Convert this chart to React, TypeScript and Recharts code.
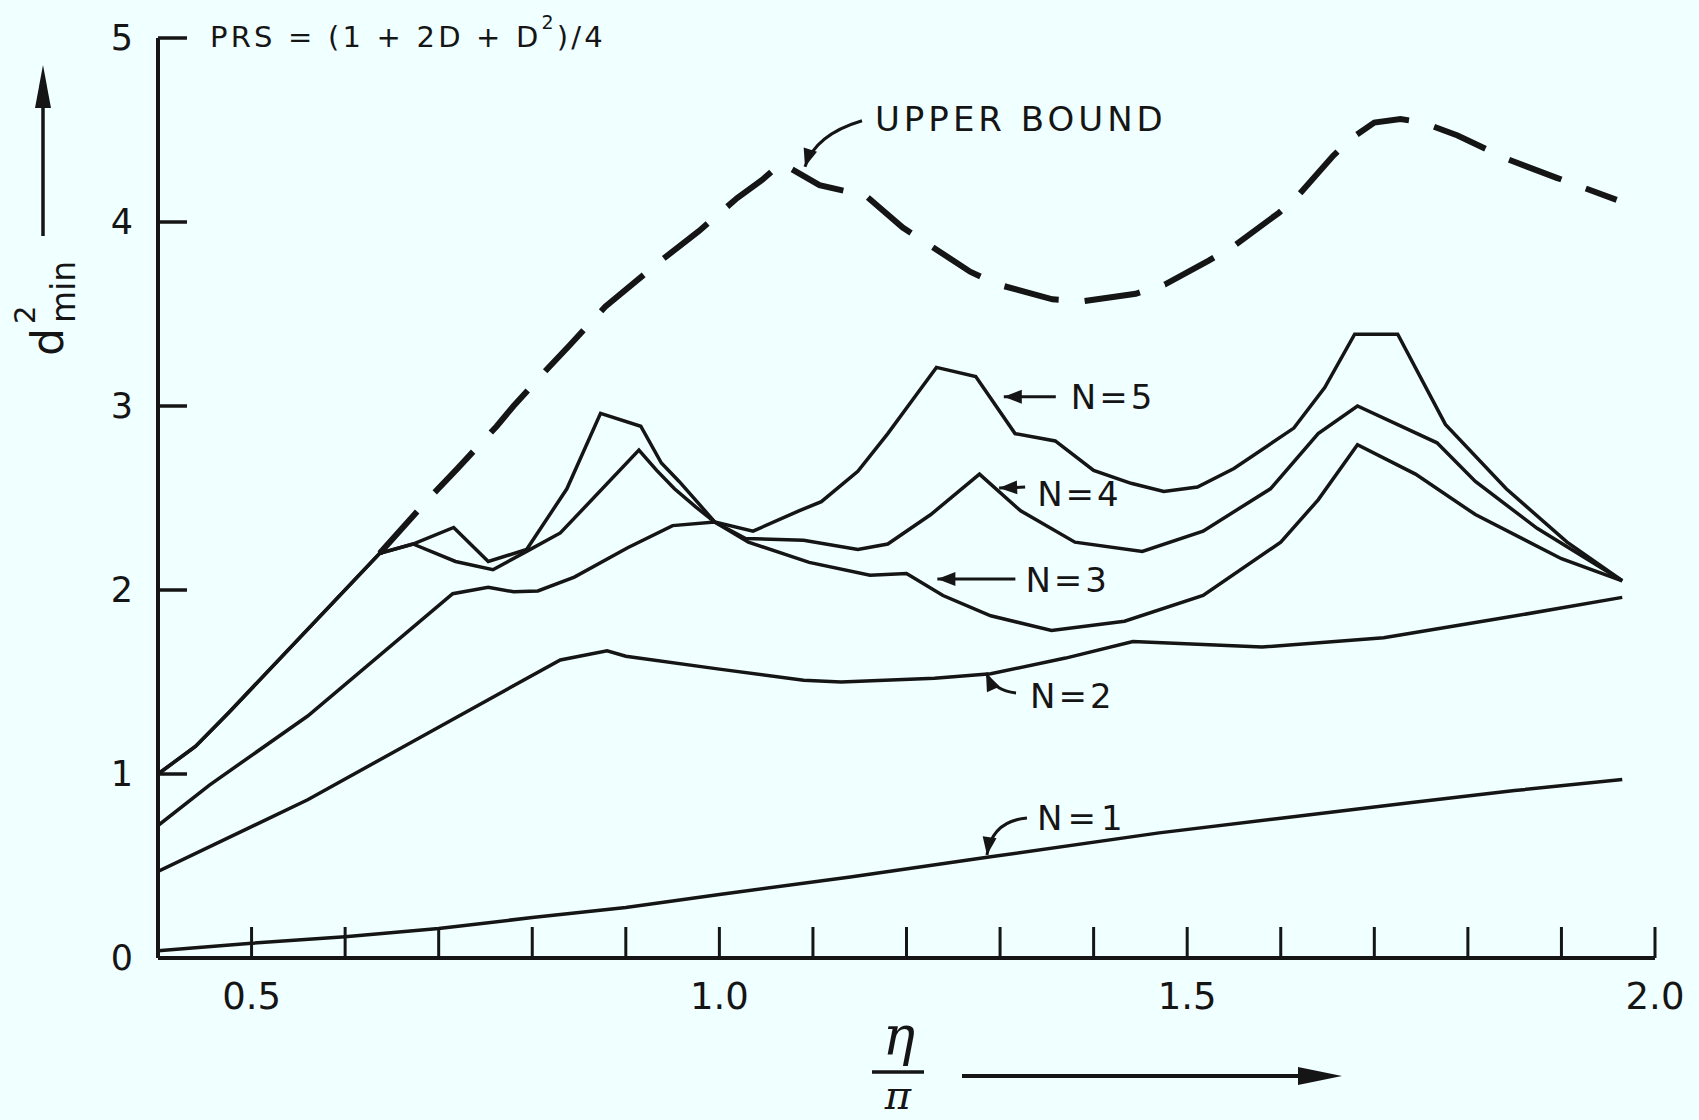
import React from "react";
import { LineChart, Line, XAxis, YAxis, ReferenceDot } from "recharts";

type Pt = [number, number];

// d^2_min versus eta/pi
const n1: Pt[] = [
  [0.4, 0.04], [0.5, 0.08], [0.6, 0.115], [0.7, 0.16], [0.8, 0.22], [0.9, 0.275],
  [1.0, 0.345], [1.14, 0.44], [1.29, 0.55], [1.47, 0.68], [1.6, 0.76], [1.74, 0.845],
  [1.85, 0.91], [1.965, 0.97],
];
const n2: Pt[] = [
  [0.4, 0.47], [0.56, 0.86], [0.67, 1.17], [0.83, 1.62], [0.88, 1.67], [0.9, 1.64],
  [1.0, 1.57], [1.09, 1.51], [1.13, 1.5], [1.23, 1.52], [1.29, 1.545], [1.37, 1.63],
  [1.442, 1.72], [1.58, 1.69], [1.71, 1.74], [1.84, 1.85], [1.965, 1.96],
];
const n3: Pt[] = [
  [0.4, 0.72], [0.455, 0.94], [0.56, 1.315], [0.715, 1.98], [0.753, 2.015], [0.78, 1.99],
  [0.806, 1.995], [0.845, 2.07], [0.902, 2.23], [0.95, 2.35], [0.995, 2.37], [1.031, 2.26],
  [1.096, 2.15], [1.161, 2.08], [1.2, 2.09], [1.239, 1.97], [1.29, 1.86], [1.355, 1.78],
  [1.433, 1.83], [1.517, 1.97], [1.6, 2.26], [1.64, 2.49], [1.682, 2.79], [1.744, 2.63],
  [1.808, 2.41], [1.9, 2.17], [1.965, 2.05],
];
const n4: Pt[] = [
  [0.4, 1.0], [0.44, 1.15], [0.475, 1.33], [0.637, 2.2], [0.6725, 2.25], [0.718, 2.155],
  [0.758, 2.11], [0.794, 2.21], [0.83, 2.31], [0.914, 2.76], [0.933, 2.65], [0.952, 2.55],
  [0.975, 2.45], [0.995, 2.37], [1.028, 2.28], [1.09, 2.27], [1.148, 2.22], [1.18, 2.25],
  [1.226, 2.41], [1.278, 2.63], [1.322, 2.43], [1.38, 2.26], [1.452, 2.21], [1.517, 2.32],
  [1.589, 2.55], [1.64, 2.85], [1.682, 3.0], [1.767, 2.8], [1.808, 2.59], [1.874, 2.335],
  [1.965, 2.05],
];
const n5: Pt[] = [
  [0.4, 1.0], [0.44, 1.15], [0.475, 1.33], [0.637, 2.2], [0.6725, 2.25], [0.716, 2.34],
  [0.753, 2.155], [0.794, 2.22], [0.837, 2.55], [0.873, 2.96], [0.916, 2.89], [0.938, 2.69],
  [0.957, 2.59], [0.977, 2.475], [0.995, 2.37], [1.036, 2.32], [1.085, 2.43], [1.109, 2.48],
  [1.148, 2.645], [1.18, 2.85], [1.206, 3.03], [1.232, 3.21], [1.274, 3.16], [1.316, 2.85],
  [1.359, 2.81], [1.4, 2.65], [1.44, 2.58], [1.475, 2.535], [1.511, 2.56], [1.55, 2.66],
  [1.614, 2.88], [1.647, 3.1], [1.679, 3.39], [1.725, 3.39], [1.776, 2.9], [1.841, 2.55],
  [1.906, 2.26], [1.965, 2.05],
];
const upperBound: Pt[] = [
  [0.637, 2.2], [0.69, 2.5], [0.72, 2.66], [0.762, 2.89], [0.78, 3.0], [0.814, 3.19],
  [0.84, 3.33], [0.878, 3.54], [0.94, 3.8], [0.978, 3.95], [1.019, 4.13], [1.046, 4.23],
  [1.066, 4.32], [1.107, 4.2], [1.142, 4.16], [1.155, 4.15], [1.196, 3.97], [1.217, 3.9],
  [1.268, 3.73], [1.298, 3.66], [1.356, 3.58], [1.39, 3.57], [1.445, 3.61], [1.476, 3.66],
  [1.523, 3.79], [1.55, 3.87], [1.598, 4.05], [1.618, 4.14], [1.656, 4.36], [1.677, 4.46],
  [1.7, 4.54], [1.728, 4.56], [1.752, 4.54], [1.789, 4.47], [1.843, 4.34], [1.895, 4.24],
  [1.959, 4.12],
];

const xTicks = [0.5, 0.6, 0.7, 0.8, 0.9, 1.0, 1.1, 1.2, 1.3, 1.4, 1.5, 1.6, 1.7, 1.8, 1.9, 2.0];
const xTickLabels = ["0.5", "1.0", "1.5", "2.0"];
const yTicks = [0, 1, 2, 3, 4, 5];

// callouts: arrow tip in data units, tail / control / text offsets in px
const callouts = [
  { label: "UPPER BOUND", x: 1.0915, y: 4.3, tail: [57, -46], ctrl: [10, -32], text: [70, -48], spacing: 4 },
  { label: "N=5", x: 1.304, y: 3.05, tail: [52, 0], ctrl: null, text: [67, 0], spacing: 3 },
  { label: "N=4", x: 1.299, y: 2.554, tail: [26, -1], ctrl: null, text: [38, 6], spacing: 3 },
  { label: "N=3", x: 1.233, y: 2.06, tail: [78, 0], ctrl: null, text: [88, 1], spacing: 3 },
  { label: "N=2", x: 1.285, y: 1.549, tail: [30, 20], ctrl: [8, 18], text: [44, 23], spacing: 3 },
  { label: "N=1", x: 1.286, y: 0.56, tail: [40, -37], ctrl: [5, -34], text: [50, -37], spacing: 5 },
];

const INK = "#151515";
const BG = "#f0ffff";
const FONT = "'DejaVu Sans', 'Liberation Sans', sans-serif";
const SERIF = "'DejaVu Serif', 'Liberation Serif', serif";

const rows = (pts: Pt[]) => pts.map(([x, y]) => ({ x, y }));

function XTick({ x, y, payload }: any) {
  const v = payload.value as number;
  const label = xTickLabels.find((s) => Math.abs(parseFloat(s) - v) < 1e-6);
  return (
    <g>
      <line x1={x} x2={x} y1={y} y2={y - 31} stroke={INK} strokeWidth={3} />
      {label && (
        <text x={x} y={y + 38} textAnchor="middle" dominantBaseline="central"
          fontSize={37} fill={INK} fontFamily={FONT}>
          {label}
        </text>
      )}
    </g>
  );
}

function YTick({ x, y, payload }: any) {
  return (
    <g>
      {payload.value > 0 && <line x1={x} x2={x + 29} y1={y} y2={y} stroke={INK} strokeWidth={3.5} />}
      <text x={x - 36} y={y} textAnchor="middle" dominantBaseline="central"
        fontSize={35} fill={INK} fontFamily={FONT}>
        {payload.value}
      </text>
    </g>
  );
}

function head(tx: number, ty: number, fx: number, fy: number, len = 18, half = 7) {
  const d = Math.hypot(tx - fx, ty - fy) || 1;
  const ux = (tx - fx) / d;
  const uy = (ty - fy) / d;
  const bx = tx - ux * len;
  const by = ty - uy * len;
  return `${tx},${ty} ${bx - uy * half},${by + ux * half} ${bx + uy * half},${by - ux * half}`;
}

function Callout({ cx, cy, c }: any) {
  const [tx, ty] = [cx + c.tail[0], cy + c.tail[1]];
  const from = c.ctrl ? [cx + c.ctrl[0], cy + c.ctrl[1]] : [tx, ty];
  const d = c.ctrl
    ? `M ${tx} ${ty} Q ${from[0]} ${from[1]} ${cx} ${cy}`
    : `M ${tx} ${ty} L ${cx} ${cy}`;
  return (
    <g>
      <path d={d} fill="none" stroke={INK} strokeWidth={3} />
      <polygon points={head(cx, cy, from[0], from[1])} fill={INK} />
      <text x={cx + c.text[0]} y={cy + c.text[1]} dominantBaseline="central"
        fontSize={34} fill={INK} fontFamily={FONT} letterSpacing={c.spacing}>
        {c.label}
      </text>
    </g>
  );
}

function Titles() {
  return (
    <svg width={1699} height={1120}
      style={{ position: "absolute", left: 0, top: 0, pointerEvents: "none" }}>
      <text x={210} y={47} fontSize={29} fill={INK} fontFamily={FONT} letterSpacing={3.2}>
        PRS = (1 + 2D + D
        <tspan dy={-18} fontSize={19}>2</tspan>
        <tspan dy={18}>)/4</tspan>
      </text>

      {/* vertical axis title */}
      <line x1={43} x2={43} y1={236} y2={100} stroke={INK} strokeWidth={3.5} />
      <polygon points="43,65 35,108 51,108" fill={INK} />
      <text transform="translate(63,356) rotate(-90)" fontSize={44} fill={INK} fontFamily={FONT}>d</text>
      <text transform="translate(35,324) rotate(-90)" fontSize={29} fill={INK} fontFamily={FONT}>2</text>
      <text transform="translate(75,323) rotate(-90)" fontSize={33} fill={INK} fontFamily={FONT}>min</text>

      {/* horizontal axis title */}
      <text x={899} y={1055} textAnchor="middle" fontSize={54} fontStyle="italic"
        fill={INK} fontFamily={SERIF}>η</text>
      <line x1={872} x2={924} y1={1072} y2={1072} stroke={INK} strokeWidth={3.5} />
      <text x={898} y={1109} textAnchor="middle" fontSize={40} fontStyle="italic"
        fill={INK} fontFamily={SERIF}>π</text>
      <line x1={962} x2={1305} y1={1076} y2={1076} stroke={INK} strokeWidth={4} />
      <polygon points="1342,1076 1298,1067 1298,1085" fill={INK} />
    </svg>
  );
}

export default function App() {
  const series = [n1, n2, n3, n4, n5];
  return (
    <div style={{ position: "absolute", left: 0, top: 0, width: 1699, height: 1120, background: BG }}>
      <LineChart width={1699} height={1120} margin={{ top: 38, right: 44, bottom: 102, left: 98 }}>
        <XAxis type="number" dataKey="x" domain={[0.4, 2.0]} ticks={xTicks} interval={0}
          allowDataOverflow height={60} tickSize={0} tickMargin={0} tickLine={false}
          axisLine={{ stroke: INK, strokeWidth: 4 }} tick={<XTick />} />
        <YAxis type="number" dataKey="y" domain={[0, 5]} ticks={yTicks} interval={0}
          width={60} tickSize={0} tickMargin={0} tickLine={false}
          axisLine={{ stroke: INK, strokeWidth: 4 }} tick={<YTick />} />
        {series.map((s, i) => (
          <Line key={i} data={rows(s)} dataKey="y" type="linear" stroke={INK}
            strokeWidth={3.5} dot={false} isAnimationActive={false} />
        ))}
        <Line data={rows(upperBound)} dataKey="y" type="linear" stroke={INK}
          strokeWidth={6} strokeDasharray="56 26" dot={false} isAnimationActive={false} />
        {callouts.map((c) => (
          <ReferenceDot key={c.label} x={c.x} y={c.y} r={0} ifOverflow="visible"
            shape={(p: any) => <Callout cx={p.cx} cy={p.cy} c={c} />} />
        ))}
      </LineChart>
      <Titles />
    </div>
  );
}
